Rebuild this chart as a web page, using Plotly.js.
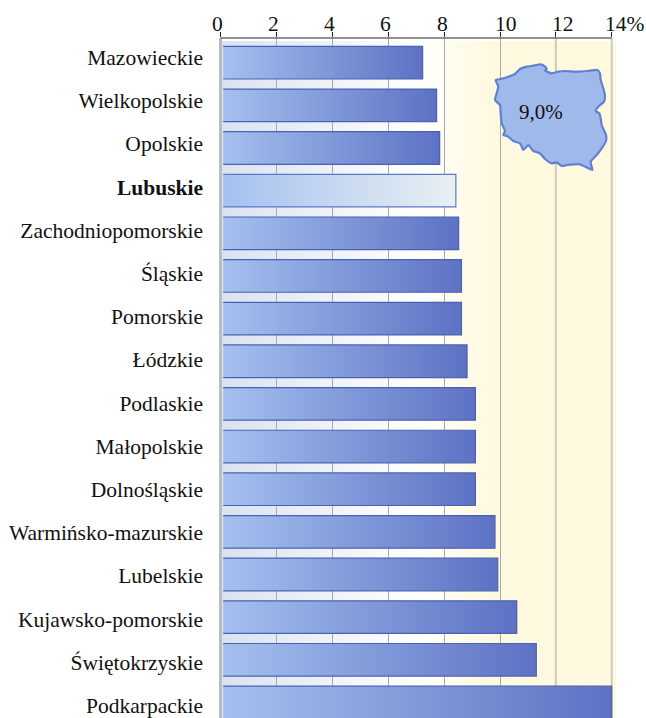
<!DOCTYPE html>
<html><head><meta charset="utf-8">
<script src="https://cdn.plot.ly/plotly-3.0.1.min.js"></script>
<style>html,body{margin:0;padding:0;background:#fff;overflow:hidden}</style>
</head><body><div id="chart" style="width:646px;height:718px"></div>
<script>
const categories = ["Mazowieckie","Wielkopolskie","Opolskie","Lubuskie","Zachodniopomorskie","Śląskie","Pomorskie","Łódzkie","Podlaskie","Małopolskie","Dolnośląskie","Warmińsko-mazurskie","Lubelskie","Kujawsko-pomorskie","Świętokrzyskie","Podkarpackie"];
const values = [7.23,7.73,7.84,8.42,8.52,8.62,8.62,8.82,9.12,9.12,9.12,9.82,9.92,10.6,11.3,14.0];
const highlighted = "Lubuskie";
const tickValues = [0,2,4,6,8,10,12,14];
const tickLabels = ["0","2","4","6","8","10","12","14%"];
const tickShifts = [-3.5,-3,-3,-2.5,-1.5,5.5,7.5,13];
const darkGridValues = [2,4,6,8,10];
const paleGridValues = [12,14];
const barStart = 0.09;
const regionValue = "9,0%";
const mapX = [47,62,85,105,120,140,160,182,195,200,195,215,235,255,290,330,352,360,362,370,375,372,355,347,358,362,365,378,378,365,350,332,337,322,300,282,262,245,230,215,195,180,160,145,130,120,100,82,70,75,65,62,60,45,50,55,47];
const mapY = [75,72,65,57,42,35,32,28,35,43,47,55,50,48,50,47,45,55,75,100,125,140,155,168,175,190,210,240,258,280,300,320,345,338,328,328,330,333,322,325,312,295,288,270,285,265,258,243,240,228,205,175,150,135,115,95,75];

const serif = '"Liberation Serif","Times New Roman",serif';
const idx = categories.map((_, i) => i);
const W = 646, H = 718, L = 219, R = 618, T = 38;
const unit = 27.93, zeroPx = 220.7;
const xRange = [(L - zeroPx) / unit, (R - zeroPx) / unit];
const rowH = 42.65, row0 = 62.7;
const yRange = [(H - row0) / rowH, (T - row0) / rowH];
const labH = 43.2, lab0 = 57.5;
const y2Range = [(H - lab0) / labH, (T - lab0) / labH];

const traces = [
 {type:'bar', orientation:'h', y:idx, x:values.map(v=>v-barStart), base:barStart, width:0.765,
  marker:{color:categories.map(c=>c===highlighted?'#c8d6ee':'#8098d8'),
          line:{color:categories.map(c=>c===highlighted?'#5a78c8':'#4a62b4'),width:1.2}},
  hoverinfo:'skip', xaxis:'x', yaxis:'y'},
 {type:'scatter', mode:'markers', y:idx, x:values, marker:{opacity:0,size:1}, hoverinfo:'skip', xaxis:'x', yaxis:'y2'},
 {type:'scatter', mode:'lines', fill:'toself', x:mapX.map(v=>480+v/3), y:mapY.map(v=>55+v/3),
  line:{color:'#6080d2',width:2.2,shape:'spline',smoothing:0.5}, fillcolor:'#9fb9eb', hoverinfo:'skip', xaxis:'x2', yaxis:'y3'}
];

const annotations = tickValues.map((v,i)=>({xref:'x',yref:'paper',x:v,y:1,yanchor:'bottom',xanchor:'center',
  xshift:tickShifts[i],yshift:0,text:tickLabels[i],showarrow:false,font:{family:serif,size:21.5,color:'#111'}}));
annotations.push({xref:'x2',yref:'y3',x:541,y:112,text:regionValue,showarrow:false,font:{family:serif,size:21,color:'#111'}});

const layout = {
 width:W,height:H,margin:{l:L,r:W-R,t:T,b:0},showlegend:false,
 paper_bgcolor:'#fff',plot_bgcolor:'rgba(0,0,0,0)',
 font:{family:serif,color:'#111'},
 xaxis:{side:'top',range:xRange,tickmode:'array',tickvals:tickValues,ticktext:tickValues.map(()=>''),ticks:'outside',ticklen:5,tickwidth:1,tickcolor:'#222',
   showline:false,showgrid:false,
   minor:{tickmode:'array',tickvals:darkGridValues,ticks:'',showgrid:true,gridcolor:'#a9a9a9',gridwidth:1},
   zeroline:true,zerolinecolor:'#bcbcbc',zerolinewidth:2.5,fixedrange:true},
 yaxis:{range:yRange,showgrid:false,zeroline:false,showticklabels:false,ticks:'',showline:false,fixedrange:true},
 yaxis2:{overlaying:'y',range:y2Range,anchor:'x',side:'left',tickmode:'array',tickvals:idx,
   ticktext:categories.map(c=>c===highlighted?'<b>'+c+'</b>':c),ticks:'',ticklabelstandoff:15,ticklabeloverflow:'allow',
   tickfont:{family:serif,size:21.5,color:'#111'},showgrid:false,zeroline:false,showline:false,fixedrange:true},
 xaxis2:{overlaying:'x',range:[L,R],visible:false,fixedrange:true},
 yaxis3:{overlaying:'y',range:[H,T],visible:false,fixedrange:true},
 shapes:[
  {type:'rect',layer:'below',xref:'x',yref:'paper',x0:0,x1:14.15,y0:0,y1:(H-41)/(H-T),fillcolor:'rgb(1,2,3)',line:{width:0}},
  ...paleGridValues.map(v=>({type:'line',layer:'below',xref:'x',yref:'paper',x0:v,x1:v,y0:0,y1:1,line:{color:'#cfcbbc',width:2}})),
  {type:'line',layer:'above',xref:'x',yref:'paper',x0:0,x1:14,y0:1,y1:1,line:{color:'#222',width:1}}
 ],
 annotations
};

Plotly.newPlot('chart',traces,layout,{displayModeBar:false,responsive:false}).then(gd=>{
 const svg = gd.querySelector('svg.main-svg');
 const NS='http://www.w3.org/2000/svg';
 const defs = svg.querySelector('defs') || svg.insertBefore(document.createElementNS(NS,'defs'),svg.firstChild);
 const grad=(id,stops)=>{const g=document.createElementNS(NS,'linearGradient');g.id=id;
   g.setAttribute('x1','0');g.setAttribute('x2','1');g.setAttribute('y1','0');g.setAttribute('y2','0');
   stops.forEach(([o,c])=>{const s=document.createElementNS(NS,'stop');s.setAttribute('offset',o);s.setAttribute('stop-color',c);g.appendChild(s);});
   defs.appendChild(g);};
 grad('barGrad',[[0,'#a5c0ef'],[1,'#5d72c4']]);
 grad('hiGrad',[[0,'#a5c0ef'],[1,'#e9f0f3']]);
 grad('bgGrad',[[0,'#dae2f2'],[0.5,'#ffffff'],[0.68,'#fff9e0'],[1,'#fff9e0']]);
 gd.querySelectorAll('.bars .point path').forEach((p,i)=>{
   p.style.fill = categories[i]===highlighted?'url(#hiGrad)':'url(#barGrad)';
   const b=p.getBBox();
   p.style.strokeDasharray = '0 '+b.height+' '+(2*b.width+b.height)+' 0';
 });
 gd.querySelectorAll('.shapelayer path').forEach(p=>{
   if(p.style.fill==='rgb(1, 2, 3)') p.style.fill='url(#bgGrad)';
 });
});
</script></body></html>
